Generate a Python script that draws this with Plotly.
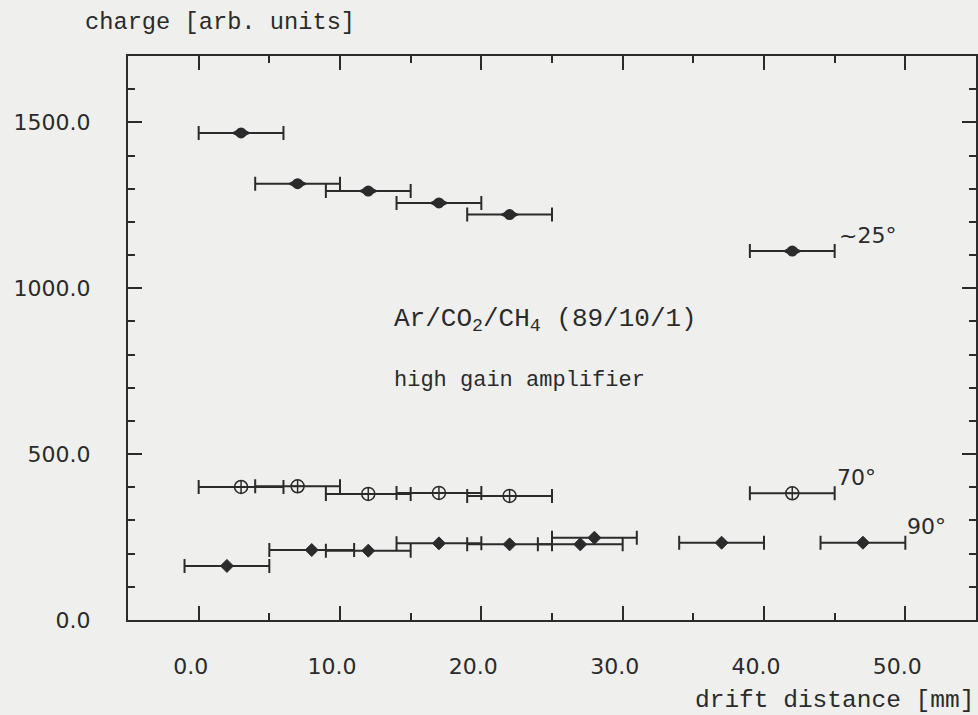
import plotly.graph_objects as go

# ---------------- data ----------------
dist_25 = [3, 7, 12, 17, 22, 42]
charge_25 = [1468, 1315, 1293, 1257, 1222, 1112]
err_25 = [3.0, 3.0, 3.0, 3.0, 3.0, 3.0]

dist_70 = [3, 7, 12, 17, 22, 42]
charge_70 = [401, 403, 380, 383, 374, 382]
err_70 = [3.0, 3.0, 3.0, 3.0, 3.0, 3.0]

dist_90 = [2, 8, 12, 17, 22, 27, 28, 37, 47]
charge_90 = [163, 211, 209, 231, 228, 228, 248, 233, 233]
err_90 = [3.0, 3.0, 3.0, 3.0, 3.0, 3.0, 3.0, 3.0, 3.0]

angle_labels = ["~25°", "70°", "90°"]
x_title = "drift distance [mm]"
y_title = "charge [arb. units]"
gas_label = "Ar/CO<sub>2</sub>/CH<sub>4</sub> (89/10/1)"
amp_label = "high gain amplifier"

# ---------------- style ----------------
INK = "#2b2b2b"
BG = "#efefed"
SANS = "DejaVu Sans"
MONO = "Liberation Mono"


def err(arr):
    return dict(type="data", array=arr, symmetric=True, color=INK,
                thickness=2, width=7)


fig = go.Figure()
# ~25 deg : lens-shaped filled markers (wide diamond + round core)
fig.add_trace(go.Scatter(
    x=dist_25, y=charge_25, mode="markers", error_x=err(err_25),
    marker=dict(symbol="diamond-wide", size=12, color=INK,
                line=dict(color=INK, width=1.5)),
))
fig.add_trace(go.Scatter(
    x=dist_25, y=charge_25, mode="markers", hoverinfo="skip",
    marker=dict(symbol="circle", size=11, color=INK, line=dict(width=0)),
))
# 70 deg : open circle with cross
fig.add_trace(go.Scatter(
    x=dist_70, y=charge_70, mode="markers", error_x=err(err_70),
    marker=dict(symbol="circle-cross-open", size=13, color=INK,
                line=dict(color=INK, width=1.5)),
))
# 90 deg : filled diamonds
fig.add_trace(go.Scatter(
    x=dist_90, y=charge_90, mode="markers", error_x=err(err_90),
    marker=dict(symbol="diamond", size=10, color=INK,
                line=dict(color=INK, width=1)),
))

f_sans = dict(family=SANS, size=22, color=INK)

annotations = [
    dict(x=45.2, y=1160, xref="x", yref="y", text=angle_labels[0],
         showarrow=False, xanchor="left", yanchor="middle", font=f_sans),
    dict(x=45.0, y=431, xref="x", yref="y", text=angle_labels[1],
         showarrow=False, xanchor="left", yanchor="middle", font=f_sans),
    dict(x=50.0, y=283, xref="x", yref="y", text=angle_labels[2],
         showarrow=False, xanchor="left", yanchor="middle", font=f_sans),
    dict(x=13.7, y=904, xref="x", yref="y", text=gas_label,
         showarrow=False, xanchor="left", yanchor="middle",
         font=dict(family=MONO, size=26, color=INK)),
    dict(x=13.7, y=723, xref="x", yref="y", text=amp_label,
         showarrow=False, xanchor="left", yanchor="middle",
         font=dict(family=MONO, size=22, color=INK)),
    dict(x=-0.053, y=1.060, xref="paper", yref="paper", text=y_title,
         showarrow=False, xanchor="left", yanchor="middle",
         font=dict(family=MONO, size=23.7, color=INK)),
    dict(x=0.9995, y=-0.142, xref="paper", yref="paper", text=x_title,
         showarrow=False, xanchor="right", yanchor="middle",
         font=dict(family=MONO, size=24.5, color=INK)),
]

fig.update_layout(
    width=978, height=715,
    margin=dict(l=128, r=0, t=56, b=95),
    paper_bgcolor=BG, plot_bgcolor=BG,
    showlegend=False,
    annotations=annotations,
)

fig.update_xaxes(
    range=[-5, 55], tick0=0, dtick=10, tickformat=".1f",
    ticks="inside", ticklen=14, tickwidth=2, tickcolor=INK,
    minor=dict(dtick=5, tick0=0, ticks="inside", ticklen=7, tickwidth=2, tickcolor=INK),
    showline=True, linewidth=2, linecolor=INK, mirror="allticks",
    showgrid=False, zeroline=False,
    tickfont=dict(family=SANS, size=22, color=INK),
    ticklabelstandoff=26, ticklabelshift=-8,
)
fig.update_yaxes(
    range=[0, 1700], tick0=0, dtick=500, tickformat=".1f",
    ticks="inside", ticklen=14, tickwidth=2, tickcolor=INK,
    minor=dict(dtick=100, tick0=0, ticks="inside", ticklen=7, tickwidth=2, tickcolor=INK),
    showline=True, linewidth=2, linecolor=INK, mirror="allticks",
    showgrid=False, zeroline=False,
    tickfont=dict(family=SANS, size=22, color=INK),
    ticklabelstandoff=31,
)

fig.write_html(
    "out.html",
    config={"displayModeBar": False},
    post_script="document.body.style.margin='0';document.body.style.background='#efefed';",
)
